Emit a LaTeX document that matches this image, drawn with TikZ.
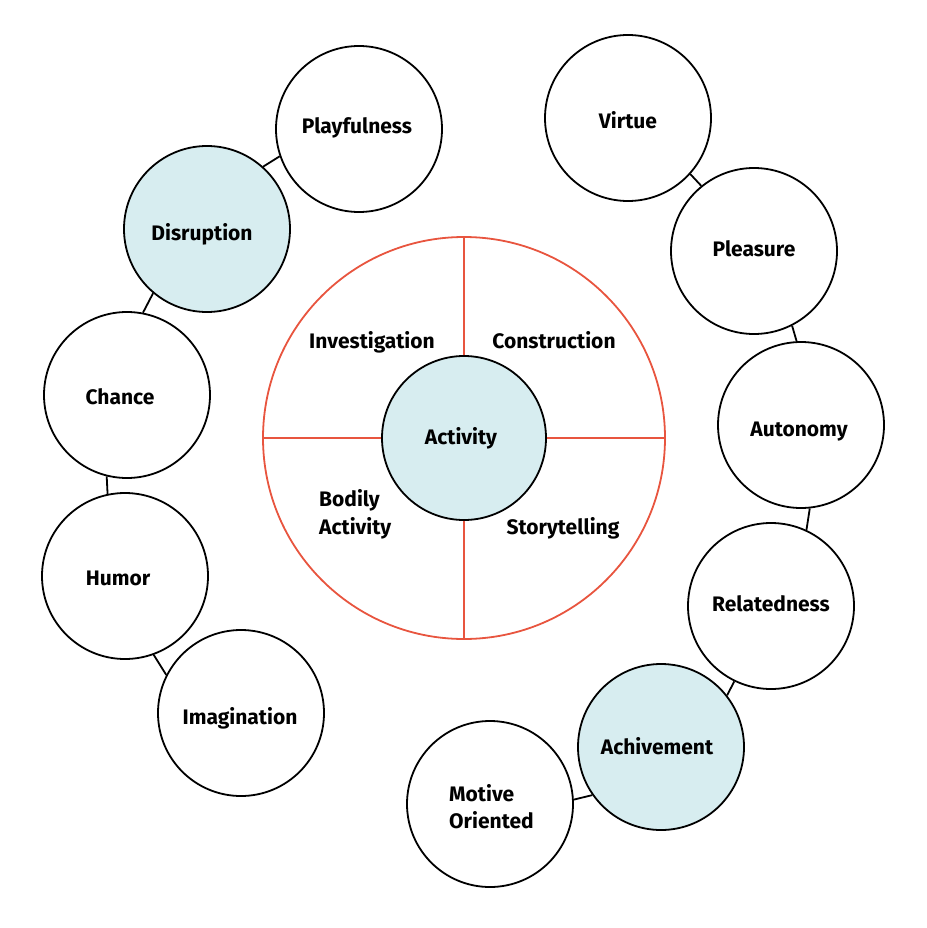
\documentclass[tikz,border=0pt]{standalone}
\usepackage{fontspec}
\setmainfont{Fira Sans}
\definecolor{ringred}{HTML}{E8553F}
\definecolor{paleblue}{HTML}{D7EDF0}
\begin{document}
\begin{tikzpicture}[x=1pt,y=-1pt,
  bub/.style={circle,draw=black,line width=1.8pt,fill=white,minimum size=166pt,inner sep=0pt},
  hot/.style={bub,fill=paleblue},
  lab/.style={font=\fontsize{21}{27}\selectfont\bfseries,anchor=base,inner sep=0pt},
  link/.style={draw=black,line width=1.8pt},
  redline/.style={draw=ringred,line width=1.8pt}]
\useasboundingbox (0,0) rectangle (926,928);
% outer ring
\node[circle,draw=ringred,line width=1.8pt,minimum size=402pt,inner sep=0pt] (ring) at (464,438) {};
\node[hot,minimum size=164pt] (act) at (464,438) {};
\draw[redline] (ring.north) -- (act.north);
\draw[redline] (ring.south) -- (act.south);
\draw[redline] (ring.west) -- (act.west);
\draw[redline] (ring.east) -- (act.east);
% bubbles
\node[bub] (play) at (359,129) {};
\node[hot] (disr) at (207,229) {};
\node[bub] (chan) at (127,395) {};
\node[bub] (humo) at (125,576) {};
\node[bub] (imag) at (241,713) {};
\node[bub] (virt) at (628,118) {};
\node[bub] (plea) at (754,251) {};
\node[bub] (auto) at (801,425) {};
\node[bub] (rela) at (771,606) {};
\node[hot] (achi) at (661,747) {};
\node[bub] (moti) at (490,804) {};
% connectors
\draw[link] (play.199) -- (disr.48);
\draw[link] (disr.230) -- (chan.79);
\draw[link] (chan.256) -- (humo.102);
\draw[link] (humo.290) -- (imag.153);
\draw[link] (virt.318) -- (plea.129);
\draw[link] (plea.297) -- (auto.93);
\draw[link] (auto.276) -- (rela.65);
\draw[link] (rela.244) -- (achi.38);
\draw[link] (achi.215) -- (moti.3);
% labels
\node[lab] (tplay) at (357,134) {Playfulness};
\node[lab] (tdisr) at (202,240) {Disruption};
\node[lab] (tchan) at (120,404) {Chance};
\node[lab] (thumo) at (118,585) {Humor};
\node[lab] (timag) at (240,724) {Imagination};
\node[lab] (tvirt) at (628,129) {Virtue};
\node[lab] (tplea) at (754,256) {Pleasure};
\node[lab] (tauto) at (799,436) {Autonomy};
\node[lab] (trela) at (771,611) {Relatedness};
\node[lab] (tachi) at (657,754) {Achivement};
\node[lab,anchor=base west] (tmot1) at (449,801) {Motive};
\node[lab,anchor=base west] (tmot2) at (449,828) {Oriented};
\node[lab] (tinv) at (372,348) {Investigation};
\node[lab] (tcon) at (554,348) {Construction};
\node[lab] (tact) at (461,444) {Activity};
\node[lab,anchor=base west] (tbod1) at (319,506) {Bodily};
\node[lab,anchor=base west] (tbod2) at (319,534) {Activity};
\node[lab] (tsto) at (563,534) {Storytelling};
\end{tikzpicture}
\end{document}
